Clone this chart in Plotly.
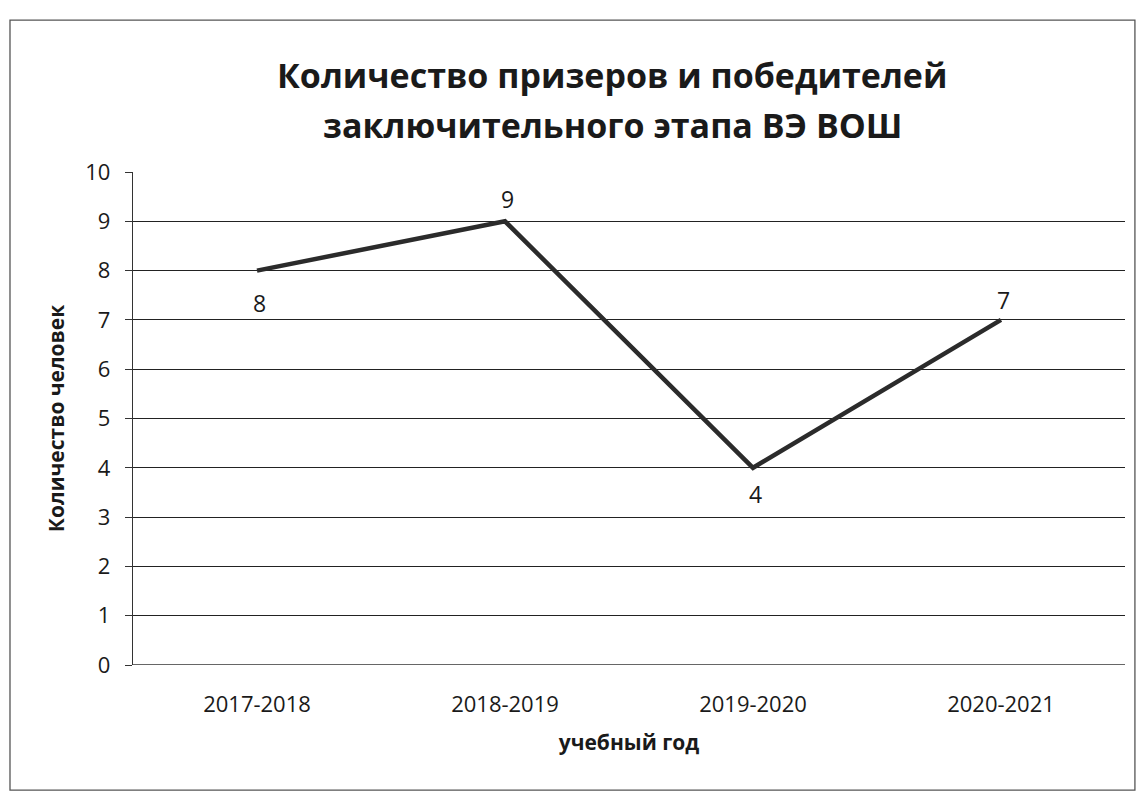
import plotly.graph_objects as go

years = ["2017-2018", "2018-2019", "2019-2020", "2020-2021"]
values = [8, 9, 4, 7]
label_shift = [-32, 22, -26, 20]
y_ticks = [0, 1, 2, 3, 4, 5, 6, 7, 8, 9, 10]
title_lines = ["Количество призеров и победителей", "заключительного этапа ВЭ ВОШ"]

fig = go.Figure()
fig.add_trace(go.Scatter(
    x=years, y=values, mode="lines",
    line=dict(color="#2b2b2b", width=4.5),
    showlegend=False,
))

annotations = []
for i, line in enumerate(title_lines):
    annotations.append(dict(
        text="<b>" + line + "</b>", xref="paper", yref="paper",
        x=0.483, y=(657 - (75 - 8 + i * 50)) / 493,
        xanchor="center", yanchor="middle", showarrow=False,
        font=dict(family="Open Sans", size=34, color="#1a1a1a"),
    ))
for xv, yv, sh in zip(years, values, label_shift):
    annotations.append(dict(
        text=str(yv), x=xv, y=yv, xref="x", yref="y",
        yshift=sh, xshift=2, showarrow=False,
        xanchor="center", yanchor="middle",
        font=dict(family="Open Sans", size=23, color="#1a1a1a"),
    ))

fig.update_layout(
    width=1144, height=793,
    paper_bgcolor="white", plot_bgcolor="white",
    margin=dict(l=125, r=27, t=164, b=136),
    font=dict(family="Open Sans", color="#1a1a1a"),
    annotations=annotations,
    xaxis=dict(
        range=[-0.5, 3.5],
        showgrid=False, showline=False, ticks="",
        tickfont=dict(size=22, color="#1a1a1a"),
        ticklabelstandoff=24,
        title=dict(text="<b>учебный год</b>", font=dict(size=21), standoff=18),
    ),
    yaxis=dict(
        range=[0, 10], tickvals=y_ticks,
        showgrid=True, gridcolor="#222222", gridwidth=1.3,
        zeroline=False, showline=True, linecolor="#333333", linewidth=1.3,
        ticks="outside", ticklen=7, tickcolor="#333333",
        tickfont=dict(size=22, color="#1a1a1a"),
        ticklabelstandoff=10,
        title=dict(text="<b>Количество человек</b>", font=dict(size=21), standoff=14),
    ),
    shapes=[
        dict(type="rect", xref="paper", yref="paper",
             x0=-0.124, x1=1.010, y0=-0.254, y1=1.308,
             line=dict(color="#555555", width=1.3)),
        dict(type="line", xref="paper", yref="y", x0=0, x1=1, y0=0, y1=0,
             line=dict(color="#333333", width=1.3)),
    ],
)

fig.write_html("out.html")
